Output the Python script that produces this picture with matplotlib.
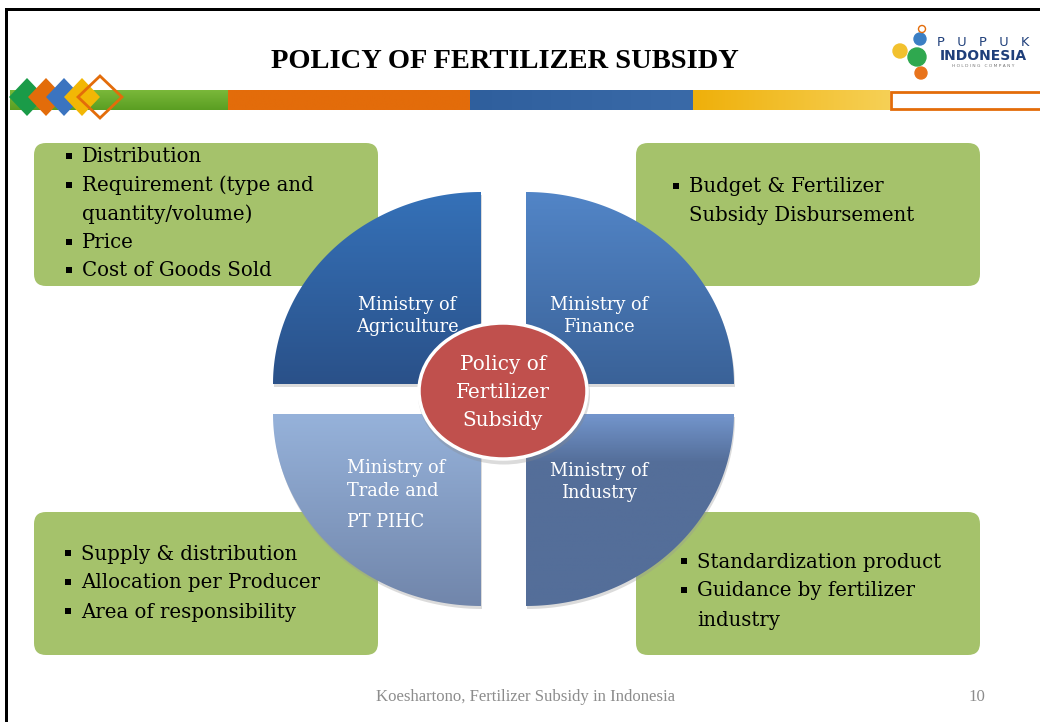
import numpy as np
import matplotlib.pyplot as plt
from matplotlib.patches import Polygon, Ellipse, FancyBboxPatch, Rectangle, Circle
from matplotlib.colors import LinearSegmentedColormap

title = "POLICY OF FERTILIZER SUBSIDY"
center_label = ["Policy of", "Fertilizer", "Subsidy"]
ministries = [["Ministry of", "Agriculture"], ["Ministry of", "Finance"],
              ["Ministry of", "Trade and", "PT PIHC"], ["Ministry of", "Industry"]]
tasks_tl = ["Distribution", "Requirement (type and", "quantity/volume)", "Price", "Cost of Goods Sold"]
bullets_tl = [True, True, False, True, True]
tasks_tr = ["Budget & Fertilizer", "Subsidy Disbursement"]
bullets_tr = [True, False]
tasks_bl = ["Supply & distribution", "Allocation per Producer", "Area of responsibility"]
bullets_bl = [True, True, True]
tasks_br = ["Standardization product", "Guidance by fertilizer", "industry"]
bullets_br = [True, True, False]
footer = "Koeshartono, Fertilizer Subsidy in Indonesia"
page = "10"

BODY = "DejaVu Serif"

fig = plt.figure(figsize=(10.4, 7.22), dpi=100)
ax = fig.add_axes([0, 0, 1, 1])
ax.set_xlim(0, 1040)
ax.set_ylim(722, 0)
ax.axis("off")

# frame
ax.add_patch(Rectangle((5, 8), 1040, 3, color="black", lw=0))
ax.add_patch(Rectangle((5, 8), 3, 720, color="black", lw=0))

# title
ax.text(505, 62, title, ha="center", va="center", fontsize=20.5,
        fontweight="bold", family="Liberation Serif")

# coloured band
def grad_rect(x0, x1, y0, y1, c0, c1, horizontal=True, z=2):
    cm = LinearSegmentedColormap.from_list("g", [c0, c1])
    g = np.linspace(0, 1, 100)
    img = g[None, :] if horizontal else g[:, None]
    ax.imshow(img, cmap=cm, extent=(x0, x1, y1, y0), aspect="auto", zorder=z)

grad_rect(10, 228, 90, 110, "#7ab83a", "#5a9e22", horizontal=False)
grad_rect(228, 470, 90, 110, "#e36c0a", "#e36c0a")
grad_rect(470, 693, 90, 110, "#2f5f9d", "#3a6aa8")
grad_rect(693, 890, 90, 110, "#efb00a", "#f6d055")
ax.add_patch(Rectangle((891, 92), 160, 17, facecolor="white", edgecolor="#e36c0a", lw=2, zorder=3))

# diamonds
for cx, col in zip([27, 46, 64, 82], ["#1a9b48", "#e36c0a", "#3b74c0", "#f2b705"]):
    ax.add_patch(Polygon([(cx - 18, 97), (cx, 78), (cx + 18, 97), (cx, 116)],
                         closed=True, facecolor=col, edgecolor="none", zorder=4))
ax.add_patch(Polygon([(78, 97), (100, 76), (122, 97), (100, 118)], closed=True,
                     facecolor="none", edgecolor="#e36c0a", lw=2, zorder=5))

# logo
ax.add_patch(Circle((900, 51), 7, color="#f2c12e", zorder=4))
ax.add_patch(Circle((920, 39), 6, color="#3b7fc4", zorder=4))
ax.add_patch(Circle((922, 29), 3.5, facecolor="white", edgecolor="#e36c0a", lw=1, zorder=4))
ax.add_patch(Circle((917, 57), 9, color="#2fa84f", zorder=5))
ax.add_patch(Circle((921, 73), 6, color="#e8731c", zorder=4))
ax.text(983, 43, "P   U   P   U   K", ha="center", va="center", fontsize=9.3, color="#1f3f7a", family="DejaVu Sans")
ax.text(983, 56, "INDONESIA", ha="center", va="center", fontsize=10, fontweight="bold", color="#1f3f7a", family="DejaVu Sans")
ax.text(983, 66, "H O L D I N G   C O M P A N Y", ha="center", va="center", fontsize=3.2, color="#777777")

# green boxes
boxes = [(34, 143, tasks_tl, bullets_tl, 69, 157, 28.5),
         (636, 143, tasks_tr, bullets_tr, 676, 187, 28.5),
         (34, 512, tasks_bl, bullets_bl, 68, 554, 29),
         (636, 512, tasks_br, bullets_br, 684, 562, 29)]
for bx, by, lines, bul, tx, ty, dy in boxes:
    ax.add_patch(FancyBboxPatch((bx + 12, by + 12), 344 - 24, 143 - 24,
                                boxstyle="round,pad=12", facecolor="#a5c26b",
                                edgecolor="none", zorder=6))
    for i, (s, b) in enumerate(zip(lines, bul)):
        y = ty + i * dy
        if b:
            ax.add_patch(Rectangle((tx - 3, y - 4), 6, 6, color="black", lw=0, zorder=7))
        ax.text(tx + 13, y, s, ha="left", va="center", fontsize=14.2, family=BODY, zorder=7)

# quadrants
quads = [((481, 384), 90, 180, "#3571b8", "#2a5189"),
         ((526, 384), 0, 90, "#5285c7", "#3a6298"),
         ((481, 414), 180, 270, "#96b2da", "#7186ab"),
         ((526, 414), 270, 360, "#7395cc", "#546e99")]
rx, ry = 208, 192
for (cx, cy), a0, a1, c0, c1 in quads:
    t = np.radians(np.linspace(a0, a1, 120))
    pts = [(cx, cy)] + list(zip(cx + rx * np.cos(t), cy - ry * np.sin(t)))
    sh = Polygon([(x + 1, y + 3) for x, y in pts], closed=True, facecolor="#999999",
                 alpha=0.35, edgecolor="none", zorder=7)
    ax.add_patch(sh)
    poly = Polygon(pts, closed=True, facecolor="none", edgecolor="none", zorder=8)
    ax.add_patch(poly)
    xs = [p[0] for p in pts]
    ys = [p[1] for p in pts]
    y0, y1 = min(ys), max(ys)
    if a0 == 270:
        cm = LinearSegmentedColormap.from_list("q", [(0, c0), (0.25, c1), (1, c1)])
    else:
        cm = LinearSegmentedColormap.from_list("q", [c0, c1])
    im = ax.imshow(np.linspace(0, 1, 200)[:, None], cmap=cm,
                   extent=(min(xs), max(xs), y1, y0), aspect="auto", zorder=8)
    im.set_clip_path(poly)

label_x = [(407, "center"), (599, "center"), (347, "left"), (599, "center")]
label_y = [[305, 327], [305, 327], [468, 491, 522], [471, 493]]
for (lx, ha), ys, lines in zip(label_x, label_y, ministries):
    for ly, s in zip(ys, lines):
        ax.text(lx, ly, s, ha=ha, va="center", fontsize=12.8,
                color="white", family=BODY, zorder=9)

# centre ellipse
ax.add_patch(Ellipse((504, 394), 172, 141, facecolor="#888888", alpha=0.3, edgecolor="none", zorder=9))
ax.add_patch(Ellipse((503, 391), 168, 136, facecolor="#c0504d", edgecolor="white", lw=2.5, zorder=10))
for ly, s in zip([364, 393, 421], center_label):
    ax.text(503, ly, s, ha="center", va="center", fontsize=14.4, color="white",
            family=BODY, zorder=11)

# footer
ax.text(525, 697, footer, ha="center", va="center", fontsize=12.1, color="#8c8c8c",
        family="Liberation Serif")
ax.text(977, 697, page, ha="center", va="center", fontsize=12.1, color="#8c8c8c",
        family="Liberation Serif")

fig.savefig("out.png", dpi=100)
